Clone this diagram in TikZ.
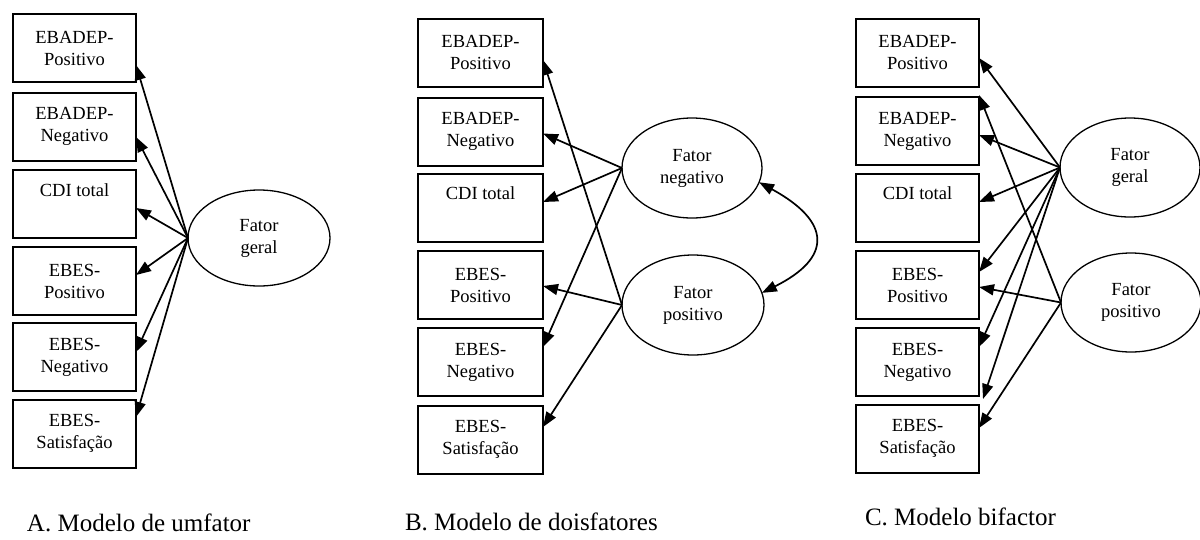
\documentclass[tikz,border=0pt]{standalone}
\usepackage{fontspec}
\setmainfont{Liberation Serif}
\usetikzlibrary{shapes.geometric,arrows.meta,calc}

\begin{document}
\begin{tikzpicture}[x=1pt,y=-1pt,
  every node/.style={font=\fontsize{18.5}{22}\selectfont, align=center, inner sep=0pt, outer sep=0pt},
  indicator/.style={draw, line width=2pt, minimum width=123pt, minimum height=68pt},
  latent/.style={draw, ellipse, line width=1.3pt},
  tip/.style={Triangle[length=15pt,width=11pt]},
  load/.style={line width=1.7pt, -{Triangle[length=15pt,width=11pt]}},
  corr/.style={line width=1.7pt, {Triangle[length=15pt,width=11pt]}-{Triangle[length=15pt,width=11pt]}},
  caption/.style={anchor=base west, font=\fontsize{25}{30}\selectfont}
]
\useasboundingbox (0,0) rectangle (1200,539);

% ---------- A: one-factor model ----------
\node[indicator] (a1) at (74.5,48)    {EBADEP-\\Positivo};
\node[indicator] (a2) at (74.5,126.5) {EBADEP-\\Negativo};
\node[indicator] (a3) at (74.5,204)   {CDI total\\\strut};
\node[indicator] (a4) at (74.5,281)   {EBES-\\Positivo};
\node[indicator] (a5) at (74.5,357)   {EBES-\\Negativo};
\node[indicator] (a6) at (74.5,433.5) {EBES-\\Satisfação};
\node[latent, minimum width=142pt, minimum height=96pt] (ga) at (259,238) {Fator\\geral};

\draw[load] (ga.west) -- ($(a1.east)+(0,17)$);
\draw[load] (ga.west) -- ($(a2.east)+(0,10.5)$);
\draw[load] (ga.west) -- ($(a3.east)+(0,4)$);
\draw[load] (ga.west) -- ($(a4.east)+(0,-6)$);
\draw[load] (ga.west) -- ($(a5.east)+(0,-5)$);
\draw[load] (ga.west) -- ($(a6.east)+(0,-16.5)$);

\node[caption] (capa) at (27,531) {A. Modelo de umfator};

% ---------- B: two-factor model ----------
\node[indicator, minimum width=125pt] (b1) at (480.5,52.5)  {EBADEP-\\Positivo};
\node[indicator, minimum width=125pt] (b2) at (480.5,131.5) {EBADEP-\\Negativo};
\node[indicator, minimum width=125pt] (b3) at (480.5,207.5) {CDI total\\\strut};
\node[indicator, minimum width=125pt] (b4) at (480.5,285)   {EBES-\\Positivo};
\node[indicator, minimum width=125pt] (b5) at (480.5,362)   {EBES-\\Negativo};
\node[indicator, minimum width=125pt] (b6) at (480.5,439.5) {EBES-\\Satisfação};
\node[latent, minimum width=140pt, minimum height=100pt] (nb) at (692,168) {Fator\\negativo};
\node[latent, minimum width=142pt, minimum height=100pt] (pb) at (693,305) {Fator\\positivo};

\draw[load] (nb.west) -- ($(b2.east)+(0,2)$);
\draw[load] (nb.west) -- ($(b3.east)+(0,-5.5)$);
\draw[load] (nb.west) -- ($(b5.east)+(0,-15)$);
\draw[load] (pb.west) -- ($(b1.east)+(0,7.5)$);
\draw[load] (pb.west) -- ($(b4.east)+(0,1)$);
\draw[load] (pb.west) -- ($(b6.east)+(0,-12.5)$);
\draw[corr] (nb.-12) .. controls (832,222) and (832,258) .. (pb.10);

\node[caption] (capb) at (405,530) {B. Modelo de doisfatores};

% ---------- C: bifactor model ----------
\node[indicator] (c1) at (917.5,52.5)  {EBADEP-\\Positivo};
\node[indicator] (c2) at (917.5,131)   {EBADEP-\\Negativo};
\node[indicator] (c3) at (917.5,207.5) {CDI total\\\strut};
\node[indicator] (c4) at (917.5,285)   {EBES-\\Positivo};
\node[indicator] (c5) at (917.5,362)   {EBES-\\Negativo};
\node[indicator] (c6) at (917.5,438.5) {EBES-\\Satisfação};
\node[latent, minimum width=140pt, minimum height=99pt] (gc) at (1130,167.5) {Fator\\geral};
\node[latent, minimum width=140pt, minimum height=99pt] (pc) at (1131,302.5) {Fator\\positivo};

\draw[load] (gc.west) -- ($(c1.east)+(0,5.5)$);
\draw[load] (gc.west) -- ($(c2.east)+(0,4)$);
\draw[load] (gc.west) -- ($(c3.east)+(0,-5.5)$);
\draw[load] (gc.west) -- ($(c4.east)+(0,-13)$);
\draw[load] (gc.west) -- ($(c5.east)+(0,-15)$);
\draw[load] (gc.west) -- ($(c6.east)+(4,-39.5)$);
\draw[load] (pc.west) -- ($(c1.east)+(0,42.5)$);
\draw[load] (pc.west) -- ($(c4.east)+(0,2)$);
\draw[load] (pc.west) -- ($(c6.east)+(0,-10.5)$);

\node[caption] (capc) at (865,525) {C. Modelo bifactor};
\end{tikzpicture}
\end{document}
